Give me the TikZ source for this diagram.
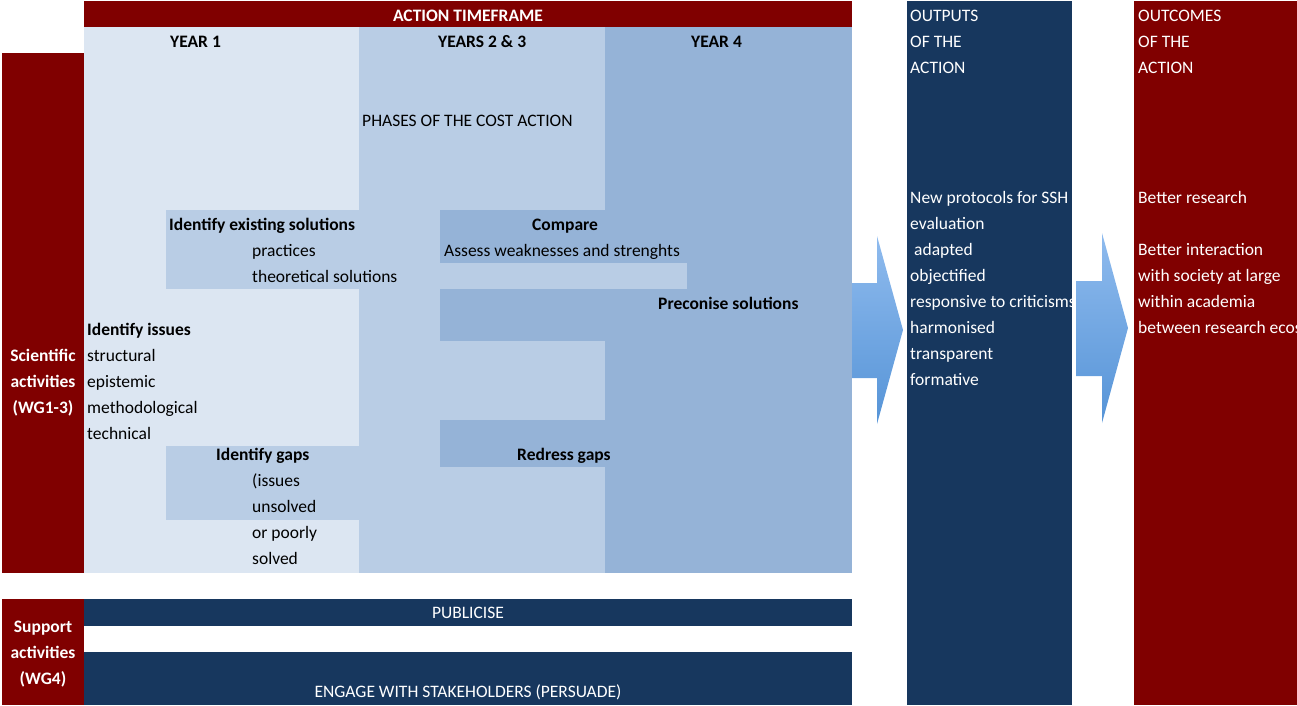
\documentclass[tikz,border=0pt]{standalone}
\usepackage{fontspec}
\setmainfont{Carlito}
\usetikzlibrary{positioning}

\definecolor{darkred}{RGB}{128,0,0}
\definecolor{navy}{RGB}{23,55,94}
\definecolor{yrone}{RGB}{220,230,242}
\definecolor{yrtwo}{RGB}{185,205,229}
\definecolor{yrfour}{RGB}{149,179,215}
\definecolor{arrowtop}{RGB}{143,187,238}
\definecolor{arrowbot}{RGB}{86,148,215}

\begin{document}
\begin{tikzpicture}[
  x=1pt, y=-1pt,
  txt/.style = {anchor=base west, inner sep=0pt, font=\fontsize{17.5}{21}\selectfont},
  head/.style = {txt, font=\fontsize{17.5}{21}\selectfont\bfseries},
  wtxt/.style = {txt, text=white},
  side/.style = {anchor=base, inner sep=0pt, text=white, font=\fontsize{17.5}{21}\selectfont\bfseries},
  bar/.style = {anchor=base, inner sep=0pt, text=white, font=\fontsize{17.5}{21}\selectfont},
  bigarrow/.style = {top color=arrowtop, bottom color=arrowbot}
]

  \useasboundingbox (0,0) rectangle (1297,705);

  % Time columns
  \fill[yrone] (84,27) rectangle (359,573);
  \fill[yrtwo] (359,27) rectangle (605,573);
  \fill[yrfour] (605,27) rectangle (852,573);

  % Task boxes inside the columns
  \fill[yrtwo] (166,210) rectangle (359,289);
  \fill[yrtwo] (166,446) rectangle (359,520);
  \fill[yrfour] (440,210) rectangle (605,263);
  \fill[yrtwo] (605,263) rectangle (687,289);
  \fill[yrfour] (440,289) rectangle (605,341);
  \fill[yrfour] (440,420) rectangle (605,467);

  % Red and blue bands
  \fill[darkred] (84,1) rectangle (852,27);
  \fill[darkred] (2,53) rectangle (84,573);
  \fill[darkred] (2,599) rectangle (84,705);
  \fill[navy] (84,599) rectangle (852,626);
  \fill[navy] (84,652) rectangle (852,705);
  \fill[navy] (907,1) rectangle (1072,705);
  \fill[darkred] (1134,1) rectangle (1297,705);

  % Block arrows
  \shade[bigarrow] (852,283) -- (877,283) -- (877,236) -- (903,330)
    -- (877,424) -- (877,378) -- (852,378) -- cycle;
  \shade[bigarrow] (1076,281) -- (1102,281) -- (1102,233) -- (1128,328)
    -- (1102,423) -- (1102,376) -- (1076,376) -- cycle;

  % Header and column titles
  \node[bar, font=\fontsize{17.5}{21}\selectfont\bfseries] (frame) at (468,21) {ACTION TIMEFRAME};
  \node[head] (y1) at (170,47) {YEAR 1};
  \node[head] (y23) at (438,47) {YEARS 2 \& 3};
  \node[head] (y4) at (691,47) {YEAR 4};
  \node[txt] (phases) at (362,126) {PHASES OF THE COST ACTION};

  % Scientific activities
  \node[side] (sci1) at (43,361) {Scientific};
  \node[side] (sci2) at (43,387) {activities};
  \node[side] (sci3) at (43,413) {(WG1-3)};

  \node[head] (exist) at (169,230) {Identify existing solutions};
  \node[txt] (exist1) at (252,256) {practices};
  \node[txt] (exist2) at (252,282) {theoretical solutions};

  \node[head] (cmp) at (532,230) {Compare};
  \node[txt] (cmp1) at (444,256) {Assess weaknesses and strenghts};
  \node[head] (preco) at (658,309) {Preconise solutions};

  \node[head] (issues) at (87,335) {Identify issues};
  \node[txt] (issue1) at (87,361) {structural};
  \node[txt] (issue2) at (87,387) {epistemic};
  \node[txt] (issue3) at (87,413) {methodological};
  \node[txt] (issue4) at (87,439) {technical};

  \node[head] (gaps) at (216,460) {Identify gaps};
  \node[txt] (gap1) at (252,486) {(issues};
  \node[txt] (gap2) at (252,512) {unsolved};
  \node[txt] (gap3) at (252,538) {or poorly};
  \node[txt] (gap4) at (252,564) {solved};
  \node[head] (redress) at (517,460) {Redress gaps};

  % Support activities
  \node[side] (sup1) at (43,632) {Support};
  \node[side] (sup2) at (43,658) {activities};
  \node[side] (sup3) at (43,684) {(WG4)};
  \node[bar] (pub) at (468,618) {PUBLICISE};
  \node[bar] (engage) at (468,697) {ENGAGE WITH STAKEHOLDERS (PERSUADE)};

  % Outputs
  \begin{scope}
    \clip (907,1) rectangle (1072,705);
    \node[wtxt] (out1) at (910,21) {OUTPUTS};
    \node[wtxt] (out2) at (910,47) {OF THE};
    \node[wtxt] (out3) at (910,73) {ACTION};
    \node[wtxt] (prot1) at (910,203) {New protocols for SSH};
    \node[wtxt] (prot2) at (910,229) {evaluation};
    \node[wtxt] (prot3) at (914,255) {adapted};
    \node[wtxt] (prot4) at (910,281) {objectified};
    \node[wtxt] (prot5) at (910,307) {responsive to criticisms};
    \node[wtxt] (prot6) at (910,333) {harmonised};
    \node[wtxt] (prot7) at (910,359) {transparent};
    \node[wtxt] (prot8) at (910,385) {formative};
  \end{scope}

  % Outcomes
  \node[wtxt] (oc1) at (1138,21) {OUTCOMES};
  \node[wtxt] (oc2) at (1138,47) {OF THE};
  \node[wtxt] (oc3) at (1138,73) {ACTION};
  \node[wtxt] (better) at (1138,203) {Better research};
  \node[wtxt] (inter1) at (1138,255) {Better interaction};
  \node[wtxt] (inter2) at (1138,281) {with society at large};
  \node[wtxt] (inter3) at (1138,307) {within academia};
  \node[wtxt] (inter4) at (1138,333) {between research ecosystems};

\end{tikzpicture}
\end{document}
